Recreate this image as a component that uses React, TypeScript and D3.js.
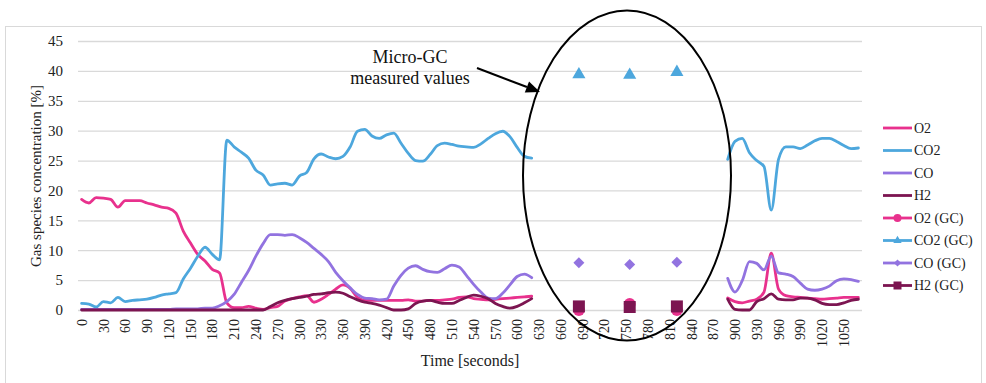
import { useEffect, useRef } from 'react';
import * as d3 from 'd3';

// sampling times (s) of the two online analyser segments
const TIME_A = d3.range(0, 630, 10);
const TIME_B = d3.range(890, 1080, 10);

const O2_A = [
  18.5, 17.9, 18.8, 18.7, 18.5, 17.2, 18.3, 18.3, 18.3, 17.9,
  17.6, 17.2, 17.0, 16.2, 13.2, 11.2, 9.3, 8.2, 6.8, 6.2,
  1.2, 0.4, 0.4, 0.6, 0.3, 0.1, 0.4, 0.6, 1.5, 1.9,
  2.2, 2.4, 1.3, 1.8, 2.6, 3.5, 4.2, 3.6, 2.1, 1.6,
  1.6, 1.6, 1.6, 1.6, 1.6, 1.7, 1.5, 1.5, 1.6, 1.6,
  1.7, 1.8, 2.1, 2.2, 1.9, 1.8, 1.7, 1.8, 1.9, 2.0,
  2.1, 2.2, 2.3,
];
const CO2_A = [
  1.1, 1.0, 0.5, 1.4, 1.2, 2.1, 1.4, 1.6, 1.7, 1.8,
  2.1, 2.5, 2.7, 2.9, 5.2, 7.0, 9.0, 10.5, 9.3, 8.4,
  28.4, 27.3, 26.4, 25.4, 23.4, 22.6, 20.9, 21.1, 21.2, 20.9,
  22.4, 23.0, 25.3, 26.1, 25.6, 25.3, 25.7, 27.3, 29.9, 30.2,
  29.1, 28.7, 29.3, 29.6, 27.9, 26.2, 25.0, 24.9, 26.0, 27.5,
  27.9, 27.7, 27.4, 27.3, 27.2, 27.8, 28.7, 29.5, 29.9, 29.0,
  27.2, 25.7, 25.4,
];
const CO_A = [
  0.1, 0.1, 0.1, 0.1, 0.1, 0.1, 0.1, 0.1, 0.1, 0.1,
  0.1, 0.1, 0.1, 0.2, 0.2, 0.2, 0.2, 0.3, 0.3, 0.7,
  1.4, 2.6, 4.6, 6.6, 9.0, 11.1, 12.6, 12.6, 12.5, 12.6,
  12.1, 11.3, 10.3, 9.3, 8.1, 6.3, 4.9, 3.7, 2.6, 2.0,
  1.9, 1.7, 1.8, 4.0, 5.8, 7.0, 7.4, 6.8, 6.4, 6.3,
  6.9, 7.5, 7.2, 5.8, 4.3, 3.0, 2.0, 1.9, 2.8, 4.2,
  5.6, 6.0, 5.4,
];
const H2_A = [
  0, 0, 0, 0, 0, 0, 0, 0, 0, 0,
  0, 0, 0, 0, 0, 0, 0, 0, 0, 0,
  0, 0, 0, 0, 0, 0, 0.6, 1.2, 1.6, 1.9,
  2.1, 2.3, 2.6, 2.7, 2.9, 3.0, 2.8, 2.2, 1.7, 1.3,
  1.1, 0.8, 0.4, 0.0, 0.0, 0.2, 1.1, 1.5, 1.6, 1.3,
  1.1, 1.1, 1.6, 2.1, 2.5, 2.3, 1.9, 1.1, 0.6, 0.3,
  0.6, 1.2, 1.9,
];

const O2_B = [2.0, 1.4, 1.2, 1.5, 1.8, 3.0, 9.5, 3.5, 2.4, 2.2, 2.1, 2.0, 1.9, 1.8, 1.9, 2.0, 2.1, 2.1, 2.1];
const CO2_B = [25.2, 28.2, 28.7, 26.3, 25.0, 24.0, 16.7, 25.2, 27.3, 27.3, 27.0, 27.6, 28.3, 28.7, 28.7, 28.2, 27.5, 27.0, 27.1];
const CO_B = [5.3, 3.0, 4.9, 8.1, 7.8, 6.7, 9.0, 6.2, 6.0, 5.6, 4.5, 3.5, 3.3, 3.5, 4.0, 4.9, 5.2, 5.1, 4.8];
const H2_B = [1.8, 0.1, 0.0, 0.0, 1.4, 1.9, 2.7, 1.8, 1.7, 1.7, 2.0, 2.0, 1.7, 1.1, 0.9, 0.9, 1.2, 1.6, 1.8];

// Micro-GC samples
const GC_TIME = [685, 755, 820];
const O2_GC = [0.0, 1.0, 0.0];
const CO2_GC = [39.4, 39.3, 39.8];
const CO_GC = [7.9, 7.6, 8.0];
const H2_GC = [0.6, 0.5, 0.6];

const X_TICKS = d3.range(0, 1060, 30);
const Y_TICKS = d3.range(0, 50, 5);

const COLORS = { O2: '#e8318d', CO2: '#4da7dd', CO: '#9273e0', H2: '#7c1551' };
const FONT = '"Liberation Serif", "Times New Roman", Times, serif';

const LINE_SERIES = [
  { name: 'O2', color: COLORS.O2, a: O2_A, b: O2_B },
  { name: 'CO2', color: COLORS.CO2, a: CO2_A, b: CO2_B },
  { name: 'CO', color: COLORS.CO, a: CO_A, b: CO_B },
  { name: 'H2', color: COLORS.H2, a: H2_A, b: H2_B },
];

const GC_SERIES = [
  { name: 'O2 (GC)', color: COLORS.O2, values: O2_GC, symbol: d3.symbolCircle, size: 110, legendSize: 50, rotate: 0 },
  { name: 'CO2 (GC)', color: COLORS.CO2, values: CO2_GC, symbol: d3.symbolTriangle, size: 75, legendSize: 30, rotate: 0 },
  { name: 'CO (GC)', color: COLORS.CO, values: CO_GC, symbol: d3.symbolSquare, size: 60, legendSize: 26, rotate: 45 },
  { name: 'H2 (GC)', color: COLORS.H2, values: H2_GC, symbol: d3.symbolSquare, size: 144, legendSize: 64, rotate: 0 },
];

export default function App() {
  const svgRef = useRef<SVGSVGElement>(null);

  useEffect(() => {
    if (!svgRef.current) return;
    const svg = d3.select(svgRef.current);
    svg.selectAll('*').remove();

    const plot = { left: 78, right: 862, top: 41, bottom: 310 };
    const x = d3.scaleLinear().domain([-5, 1075]).range([plot.left, plot.right]);
    const y = d3.scaleLinear().domain([0, 45]).range([plot.bottom, plot.top]);

    // chart frame
    svg.append('rect')
      .attr('x', 5.5).attr('y', 26.5)
      .attr('width', 976).attr('height', 400)
      .attr('fill', '#fff')
      .attr('stroke', '#d9d9d9');

    // gridlines
    svg.append('g')
      .selectAll('line')
      .data(Y_TICKS)
      .join('line')
      .attr('x1', plot.left).attr('x2', plot.right)
      .attr('y1', (d) => y(d) + 0.5).attr('y2', (d) => y(d) + 0.5)
      .attr('stroke', '#d9d9d9')
      .attr('stroke-width', 1.3);

    // y axis
    const yAxis = svg.append('g')
      .attr('transform', `translate(${plot.left},0)`)
      .call(d3.axisLeft(y).tickValues(Y_TICKS).tickSize(0).tickPadding(15));
    yAxis.select('.domain').remove();
    yAxis.attr('font-family', null).attr('font-size', null);
    yAxis.selectAll('text')
      .style('font-family', FONT)
      .style('font-size', '15px')
      .attr('fill', '#222');

    // x axis
    const xAxis = svg.append('g')
      .attr('transform', `translate(0,${plot.bottom})`)
      .call(d3.axisBottom(x).tickValues(X_TICKS).tickSize(0).tickFormat(d3.format('d')));
    xAxis.select('.domain').remove();
    xAxis.attr('font-family', null).attr('font-size', null);
    xAxis.selectAll('text')
      .style('font-family', FONT)
      .style('font-size', '14px')
      .attr('fill', '#222')
      .attr('transform', 'rotate(-90)')
      .attr('text-anchor', 'end')
      .attr('x', -9)
      .attr('y', 0)
      .attr('dy', '0.33em');

    // axis titles
    svg.append('text')
      .attr('transform', `translate(41,176) rotate(-90)`)
      .attr('text-anchor', 'middle')
      .style('font-family', FONT)
      .style('font-size', '15px')
      .attr('fill', '#222')
      .text('Gas species concentration [%]');

    svg.append('text')
      .attr('x', 470).attr('y', 366)
      .attr('text-anchor', 'middle')
      .style('font-family', FONT)
      .style('font-size', '16px')
      .attr('fill', '#222')
      .text('Time [seconds]');

    // lines
    const line = d3.line<[number, number]>()
      .x((d) => x(d[0]))
      .y((d) => y(d[1]))
      .curve(d3.curveMonotoneX);

    const lines = svg.append('g');
    LINE_SERIES.forEach((s) => {
      [
        TIME_A.map((t, i) => [t, s.a[i]] as [number, number]),
        TIME_B.map((t, i) => [t, s.b[i]] as [number, number]),
      ].forEach((seg) => {
        lines.append('path')
          .datum(seg)
          .attr('fill', 'none')
          .attr('stroke', s.color)
          .attr('stroke-width', 2.8)
          .attr('stroke-linejoin', 'round')
          .attr('stroke-linecap', 'round')
          .attr('d', line);
      });
    });

    // GC markers
    const markers = svg.append('g');
    GC_SERIES.forEach((s) => {
      markers.selectAll(null)
        .data(GC_TIME.map((t, i) => [t, s.values[i]]))
        .join('path')
        .attr('d', d3.symbol().type(s.symbol).size(s.size)())
        .attr('transform', (d) => `translate(${x(d[0])},${y(d[1])}) rotate(${s.rotate})`)
        .attr('fill', s.color);
    });

    // annotation ellipse + arrow
    svg.append('ellipse')
      .attr('cx', 627).attr('cy', 175.5)
      .attr('rx', 104).attr('ry', 165)
      .attr('fill', 'none')
      .attr('stroke', '#000')
      .attr('stroke-width', 2);

    const from: [number, number] = [477, 68];
    const tip: [number, number] = [540, 92];
    const len = Math.hypot(tip[0] - from[0], tip[1] - from[1]);
    const ux = (tip[0] - from[0]) / len;
    const uy = (tip[1] - from[1]) / len;
    const headL = 14;
    const headW = 6;
    const base: [number, number] = [tip[0] - ux * headL, tip[1] - uy * headL];
    svg.append('line')
      .attr('x1', from[0]).attr('y1', from[1])
      .attr('x2', base[0]).attr('y2', base[1])
      .attr('stroke', '#000')
      .attr('stroke-width', 2);
    svg.append('path')
      .attr('d', `M${tip[0]},${tip[1]}L${base[0] - uy * headW},${base[1] + ux * headW}L${base[0] + uy * headW},${base[1] - ux * headW}Z`)
      .attr('fill', '#000');

    svg.append('text')
      .attr('text-anchor', 'middle')
      .style('font-family', FONT)
      .style('font-size', '18px')
      .attr('fill', '#111')
      .selectAll('tspan')
      .data(['Micro-GC', 'measured values'])
      .join('tspan')
      .attr('x', 410)
      .attr('y', (_d, i) => 63 + i * 21)
      .text((d) => d);

    // legend
    const legendItems = [
      ...LINE_SERIES.map((s) => ({ name: s.name, color: s.color, marker: null as null | typeof GC_SERIES[number] })),
      ...GC_SERIES.map((s) => ({ name: s.name, color: s.color, marker: s })),
    ];
    const legend = svg.append('g').attr('transform', 'translate(883,128)');
    legendItems.forEach((item, i) => {
      const row = legend.append('g').attr('transform', `translate(0,${i * 22.5})`);
      row.append('line')
        .attr('x1', 0).attr('x2', 29)
        .attr('stroke', item.color)
        .attr('stroke-width', 2.8);
      if (item.marker) {
        row.append('path')
          .attr('d', d3.symbol().type(item.marker.symbol).size(item.marker.legendSize)())
          .attr('transform', `translate(14.5,0) rotate(${item.marker.rotate})`)
          .attr('fill', item.color);
      }
      row.append('text')
        .attr('x', 31)
        .attr('dy', '0.35em')
        .style('font-family', FONT)
        .style('font-size', '14px')
        .attr('fill', '#222')
        .text(item.name);
    });
  }, []);

  return (
    <svg
      ref={svgRef}
      width={986}
      height={383}
      style={{ position: 'absolute', left: 0, top: 0, background: '#fff' }}
    />
  );
}
